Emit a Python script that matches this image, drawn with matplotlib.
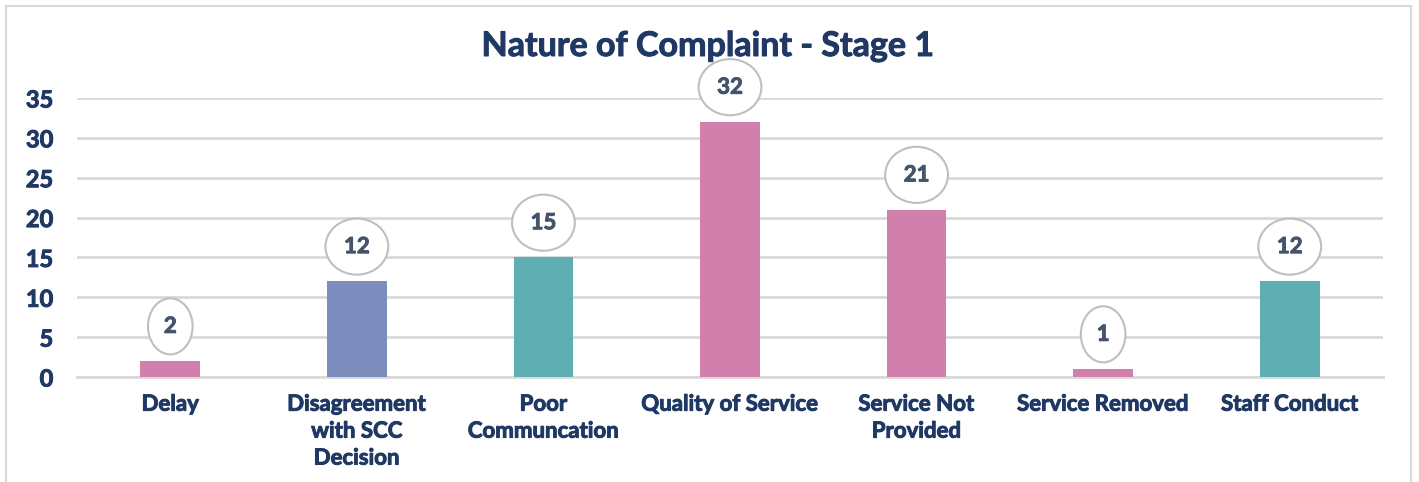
import matplotlib.pyplot as plt
import matplotlib.patheffects as pe
from matplotlib.patches import Rectangle

categories = ['Delay', 'Disagreement\nwith SCC\nDecision', 'Poor\nCommuncation',
              'Quality of Service', 'Service Not\nProvided', 'Service Removed', 'Staff Conduct']
counts = [2, 12, 15, 32, 21, 1, 12]
bar_colors = ['#D17FAB', '#7B8CBD', '#5FAEB4', '#D17FAB', '#D17FAB', '#D17FAB', '#5FAEB4']

navy = '#1F3864'
grid_col = '#D9D9D9'


def heavy(color):
    # lato bold is a bit thin compared to the original font, thicken it
    return [pe.Stroke(linewidth=0.7, foreground=color), pe.Normal()]


def main():
    plt.rcParams['font.family'] = ['Lato', 'DejaVu Sans']
    fig = plt.figure(figsize=(14.19, 4.82), dpi=100)
    ax = fig.add_axes([77 / 1419, 1 - 377 / 482, 1306 / 1419, (377 - 98) / 482])

    fig.patches.append(Rectangle((6 / 1419, -0.05), 1405 / 1419, 1.05 - 6 / 482,
                                 transform=fig.transFigure, fill=False,
                                 edgecolor=grid_col, linewidth=1.5))

    x = range(len(categories))
    ax.bar(x, counts, width=0.32, color=bar_colors, zorder=3)
    ax.set_xlim(-0.5, len(categories) - 0.5)
    ax.set_ylim(0, 35)
    ax.set_yticks(range(0, 36, 5))
    ax.yaxis.grid(True, color=grid_col, linewidth=2, zorder=0)
    ax.set_axisbelow(True)
    for side in ['top', 'right', 'left']:
        ax.spines[side].set_visible(False)
    ax.spines['bottom'].set_color(grid_col)
    ax.spines['bottom'].set_linewidth(2)
    ax.tick_params(axis='both', length=0, colors=navy)
    ax.tick_params(axis='y', pad=17, labelsize=17)
    ax.tick_params(axis='x', pad=12, labelsize=16)
    ax.set_xticks(list(x))
    ax.set_xticklabels(categories, fontweight='bold', linespacing=1.35)
    for lab in ax.get_xticklabels() + ax.get_yticklabels():
        lab.set_fontweight('bold')
        lab.set_path_effects(heavy(navy))

    for i, v in enumerate(counts):
        ax.annotate(str(v), (i, v), xytext=(0, 25), textcoords='offset points',
                    ha='center', va='center', fontsize=16, fontweight='bold',
                    color='#44546A', zorder=5, path_effects=heavy('#44546A'),
                    bbox=dict(boxstyle='ellipse,pad=0.42', fc='white',
                              ec='#BFBFBF', lw=1.5))

    fig.text(708 / 1419, 1 - 46 / 482, 'Nature of Complaint - Stage 1',
             ha='center', va='center', fontsize=24.5, fontweight='bold', color=navy,
             path_effects=heavy(navy))

    fig.savefig('out.png', dpi=100)


if __name__ == '__main__':
    main()
